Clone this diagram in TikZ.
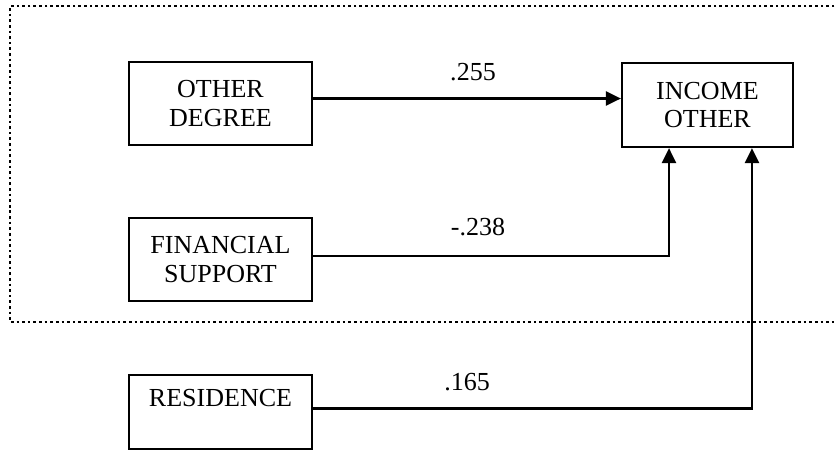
\documentclass[tikz,border=0pt]{standalone}
\usepackage{fontspec}
\setmainfont{Liberation Serif}
\usetikzlibrary{arrows.meta}

\tikzset{
	varbox/.style={draw, line width=1.3pt, minimum width=3.66cm, minimum height=1.66cm, align=center, inner sep=0pt, font=\fontsize{14.8}{16.2}\selectfont},
	link/.style={line width=1.3pt, -{Triangle[length=8.5pt, width=8pt]}},
	weight/.style={font=\fontsize{14.8}{16.2}\selectfont},
	group/.style={line width=1.7pt, dash pattern=on 1.5pt off 1.7pt}
}

\begin{document}
\begin{tikzpicture}[x=0.02cm, y=-0.02cm]
			%%%%% START %%%%%
			\useasboundingbox (0, 0) rectangle (836, 450);
			
			\draw[group] (840, 6) -- (10, 6) -- (10, 322) -- (840, 322);
			
			\node[varbox] (degree) at (220.5, 103.5) {OTHER\\DEGREE};
			\node[varbox] (support) at (220.5, 259.5) {FINANCIAL\\SUPPORT};
			\node[varbox, minimum height=1.48cm] (residence) at (220.5, 412) {RESIDENCE\\\phantom{X}};
			\node[varbox, minimum width=3.42cm, minimum height=1.68cm] (income) at (707.5, 105) {INCOME\\OTHER};
			
			\draw[link] ([yshift=0.1cm]degree.east) -- ([yshift=0.1cm]degree.east -| income.west);
			\draw[link] ([yshift=0.07cm]support.east) -| ([xshift=-0.77cm]income.south);
			\draw[link] ([yshift=0.07cm]residence.east) -| ([xshift=0.89cm]income.south);
			
			\node[weight] (w1) at (473, 72) {.255};
			\node[weight] (w2) at (478, 227) {-.238};
			\node[weight] (w3) at (467, 382) {.165};
			
			%%%%% END %%%%%
		\end{tikzpicture}
\end{document}
